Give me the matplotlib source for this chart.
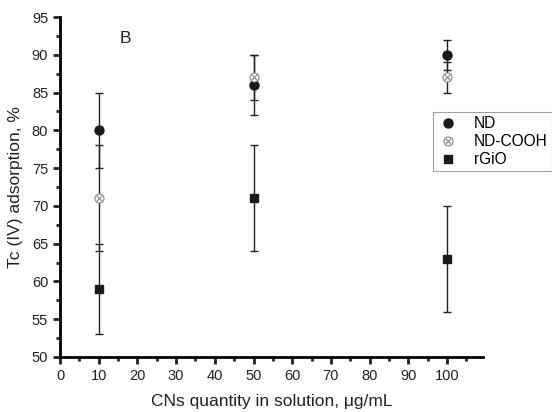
import matplotlib.pyplot as plt
from matplotlib.ticker import MultipleLocator
from matplotlib.legend_handler import HandlerTuple

plt.rcParams['font.family'] = ['Liberation Sans', 'DejaVu Sans']

conc = [10, 50, 100]
nd = [80, 86, 90]
nd_err = [5, 4, 2]
cooh = [71, 87, 87]
cooh_err = [7, 3, 2]
rgio = [59, 71, 63]
rgio_err = [6, 7, 7]

fig = plt.figure(figsize=(5.52, 4.12), dpi=100)
ax = fig.add_axes([0.1087, 0.1335, 0.7663, 0.8252])

ebkw = dict(ls='none', ecolor='#222222', elinewidth=1.0, capsize=3, capthick=1.0)
ax.errorbar(conc, nd, yerr=nd_err, **ebkw)
ax.errorbar(conc, cooh, yerr=cooh_err, **ebkw)
ax.errorbar(conc, rgio, yerr=rgio_err, **ebkw)

h_nd, = ax.plot(conc, nd, 'o', color='#1a1a1a', ms=6.5, zorder=5)
h_c1, = ax.plot(conc, cooh, 'o', mfc='white', mec='#888888', mew=0.8, ms=6.5, zorder=5)
h_c2, = ax.plot(conc, cooh, 'x', color='#888888', mew=0.8, ms=4.5, zorder=6)
h_r, = ax.plot(conc, rgio, 's', color='#1a1a1a', ms=6, zorder=5)

ax.set_xlim(0, 109.3)
ax.set_ylim(50, 95)
ax.xaxis.set_major_locator(MultipleLocator(10))
ax.xaxis.set_minor_locator(MultipleLocator(5))
ax.yaxis.set_major_locator(MultipleLocator(5))
ax.yaxis.set_minor_locator(MultipleLocator(2.5))
for s in ['top', 'right']:
    ax.spines[s].set_visible(False)
for s in ['left', 'bottom']:
    ax.spines[s].set_linewidth(2)
ax.tick_params(which='major', direction='out', length=5, width=2, labelsize=10.5, colors='#222222')
ax.tick_params(which='minor', direction='out', length=3, width=2, colors='#222222')

ax.set_xlabel('CNs quantity in solution, μg/mL', fontsize=12.5, color='#222222', labelpad=8)
ax.set_ylabel('Tc (IV) adsorption, %', fontsize=12.5, color='#222222', labelpad=6)
ax.text(17, 92.2, 'B', fontsize=12.5, ha='center', va='center', color='#222222')

leg = fig.legend([h_nd, (h_c1, h_c2), h_r], ['ND', 'ND-COOH', 'rGiO'],
                 handler_map={tuple: HandlerTuple(ndivide=1)},
                 loc='upper left', bbox_to_anchor=(0.784, 0.728), fontsize=11.2,
                 fancybox=False, edgecolor='#888888', handlelength=1.5,
                 labelspacing=0.2, borderpad=0.25, handletextpad=0.9,
                 borderaxespad=0)
leg.get_frame().set_linewidth(0.8)

fig.savefig('out.png', dpi=100)
